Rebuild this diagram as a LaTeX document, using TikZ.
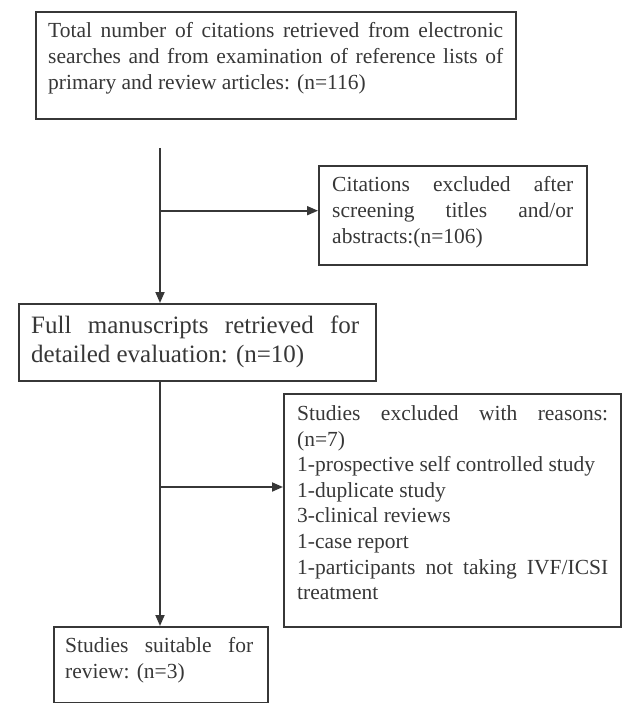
\documentclass[tikz,border=0pt]{standalone}
\usepackage{fontspec}
\setmainfont{Liberation Serif}
\usetikzlibrary{arrows.meta}
\definecolor{ink}{RGB}{55,55,55}
\begin{document}
\begin{tikzpicture}[x=1pt,y=-1pt,
  frame/.style={draw=ink, line width=1.8pt, inner sep=0pt, anchor=north west},
  thick frame/.style={frame, line width=2.4pt},
  txt/.style={text=ink, inner sep=0pt, anchor=base west, align=justify,
     font=\fontsize{21.5}{25.6}\selectfont},
  bigtxt/.style={txt, font=\fontsize{25}{29.5}\selectfont},
  conn/.style={draw=ink, line width=1.8pt},
  arr/.style={conn, -{Triangle[length=11pt,width=9pt]}}]
\useasboundingbox (0,0) rectangle (622,703);
% boxes
\node[frame, minimum width=480pt, minimum height=107pt] (b1) at (35,11) {};
\node[txt, text width=455pt] (t1) at (48,38)
  {Total number of citations retrieved from electronic\linebreak
   searches and from examination of reference lists of\linebreak
   primary and review articles: (n=116)};
\node[frame, minimum width=268pt, minimum height=99pt] (b2) at (318,165) {};
\node[txt, text width=241pt, font=\fontsize{21.5}{26.2}\selectfont] (t2) at (332,191.5)
  {Citations excluded after\linebreak
   screening titles and/or\linebreak
   abstracts:(n=106)};
\node[thick frame, minimum width=357pt, minimum height=77pt] (b3) at (18,303) {};
\node[bigtxt, text width=328pt] (t3) at (31,333)
  {Full manuscripts retrieved for\linebreak
   detailed evaluation: (n=10)};
\node[frame, minimum width=337pt, minimum height=233pt] (b4) at (283,393) {};
\node[txt, text width=311pt] (t4) at (297,420.5)
  {Studies excluded with reasons:\linebreak
   (n=7)\\
   1-prospective self controlled study\\
   1-duplicate study\\
   3-clinical reviews\\
   1-case report\\
   1-participants not taking IVF/ICSI\linebreak
   treatment};
\node[frame, minimum width=214pt, minimum height=76pt] (b5) at (53,626) {};
\node[txt, text width=188pt] (t5) at (65,652.5)
  {Studies suitable for\linebreak
   review: (n=3)};
% connectors
\coordinate (s1) at (160,148);
\coordinate (j1) at (160,210.7);
\coordinate (j2) at (160,487);
\draw[arr] (s1) -- (s1 |- b3.north);
\draw[arr] (j1) -- (j1 -| b2.west);
\draw[arr] (b3.south -| s1) -- (s1 |- b5.north);
\draw[arr] (j2) -- (j2 -| b4.west);
\end{tikzpicture}
\end{document}
